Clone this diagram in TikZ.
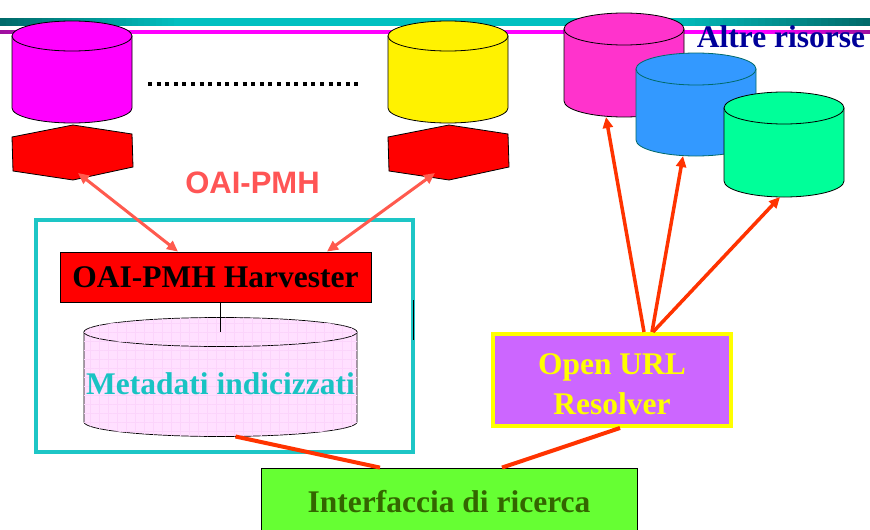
\documentclass[tikz,border=0pt]{standalone}
\usepackage{fontspec}
\setmainfont{Liberation Serif}
\newfontfamily\arialfont{Liberation Sans}
\usepackage{tikz}
\usetikzlibrary{arrows.meta,patterns.meta}
\definecolor{bandteal}{HTML}{00C0C0}
\definecolor{bandscuro}{HTML}{006A6A}
\definecolor{lineamag}{HTML}{FF00FF}
\definecolor{lineascura}{HTML}{9E109E}
\definecolor{cornice}{HTML}{1DC6C6}
\definecolor{freccia}{HTML}{FF5A4E}
\definecolor{linkrosso}{HTML}{FF3300}
\definecolor{fucsia}{HTML}{FF00FF}
\definecolor{rosa}{HTML}{FF33CC}
\definecolor{azzurro}{HTML}{3399FF}
\definecolor{verdeacqua}{HTML}{00FF99}
\definecolor{lilla}{HTML}{CC66FF}
\definecolor{verde}{HTML}{66FF33}
\definecolor{verdescuro}{HTML}{336600}
\definecolor{blu}{HTML}{000099}
\definecolor{rosapallido}{HTML}{FFE0FF}
\definecolor{griglia}{HTML}{F8B8F8}
\definecolor{testociano}{HTML}{19C3C3}
\definecolor{salmone}{HTML}{FF5555}
\definecolor{giallo}{HTML}{FFFF00}
% cylinder: name, left x, right x, top y, bottom y, y radius, style
\newcommand{\disco}[7]{%
  \filldraw[#7] (#2,#4) -- (#2,#5) arc[start angle=180,end angle=360,x radius={(#3-#2)/2},y radius=#6] -- (#3,#4) -- cycle;
  \filldraw[#7] ({(#2+#3)/2},#4) ellipse[x radius={(#3-#2)/2},y radius=#6];
  \coordinate (#1) at ({(#2+#3)/2},{#5-#6});
  \coordinate (#1 top) at ({(#2+#3)/2},#4);
}

\begin{document}
\begin{tikzpicture}[x=1pt,y=1pt,
    tit/.style={font=\fontsize{31.5}{40}\selectfont\bfseries},
    hexa/.style={fill=red,draw=black,line width=0.8pt},
    harv box/.style={tit,fill=red,draw=black,line width=0.8pt,minimum width=311,minimum height=50,inner sep=0pt},
    cornice box/.style={draw=cornice,line width=3.5pt,minimum width=377,minimum height=232,inner sep=0pt},
    oai arrow/.style={freccia,line width=3pt,{Triangle[length=11pt,width=10pt]}-{Triangle[length=11pt,width=10pt]}},
    url arrow/.style={linkrosso,line width=3.5pt,-{Triangle[length=11pt,width=10pt]}},
    link/.style={linkrosso,line width=4pt}]
        \useasboundingbox (0,0) rectangle (870,-530);
        \fill[white] (0,0) rectangle (870,-530);
        % Title bars
        \fill[bandteal] (180,-18) rectangle (660,-26);
        \fill[lineamag] (120,-30) rectangle (760,-34);
        \foreach \i in {0,...,29}{
            \pgfmathtruncatemacro{\p}{\i*100/29}
            \fill[bandteal!\p!bandscuro] ({\i*6},-18) rectangle ({\i*6+6.6},-26);
            \fill[bandscuro!\p!bandteal] ({660+\i*7},-18) rectangle ({660+\i*7+7.6},-26);
            \fill[lineamag!\p!lineascura] ({\i*4},-30) rectangle ({\i*4+4.6},-34);
            \fill[lineascura!\p!lineamag] ({760+\i*3.7},-30) rectangle ({760+\i*3.7+4.3},-34);
        }
        % Repositories
        \disco{magenta}{12}{132}{-36}{-108}{15}{fill=fucsia,draw=black,line width=0.8pt}
        \disco{giallo}{388}{508}{-36}{-108}{15}{fill=yellow,draw=black,line width=0.8pt}
        \foreach \x in {0,376}
            \filldraw[hexa,xshift=\x] (73,-125) -- (12,-137) -- (13,-171) -- (73,-180) -- (133,-167) -- (132,-134) -- cycle;
        \coordinate (hexA) at (78,-173);
        \coordinate (hexB) at (435,-173);
        \draw[line width=4pt,dash pattern=on 4pt off 4.6pt] (148,-84) -- (362,-84);
        \node[font=\arialfont\fontsize{31}{36}\selectfont\bfseries,text=salmone,anchor=base] (oai) at (252.5,-193) {OAI-PMH};
        % Other resources
        \disco{rosa}{564}{684}{-29}{-101}{16}{fill=rosa,draw=black,line width=0.8pt}
        \disco{azzurro}{636}{756}{-69}{-140}{16}{fill=azzurro,draw=bandscuro,line width=0.8pt}
        \disco{verde}{724}{844}{-108}{-181}{16}{fill=verdeacqua,draw=black,line width=0.8pt}
        \node[tit,text=blu,anchor=base] (altre) at (781,-47) {Altre risorse};
        % Harvester and index
        \node[cornice box] (blocco) at (224.5,-336) {};
        \draw[line width=0.8pt] (413,-300) -- (413,-340);
        \node[harv box] (harv) at (215.5,-277) {OAI-PMH Harvester};
        \disco{meta}{84}{357}{-332}{-422}{14.5}{fill=rosapallido,draw=black,line width=0.7pt,postaction={pattern={Hatch[distance=9pt,line width=0.5pt]},pattern color=griglia!60}}
        \draw[line width=0.8pt] (meta top |- harv.south) -- (meta top);
        \node[tit,text=testociano,anchor=base] (metalabel) at (220.5,-394) {Metadati indicizzati};
        % Resolver and search
        \node[tit,fill=lilla,draw=giallo,line width=4pt,text=giallo,align=center,minimum width=238,minimum height=92,inner sep=0pt] (resolver) at (612,-380) {\rule{0pt}{30pt}Open URL\\Resolver};
        \node[tit,fill=verde,draw=black,line width=0.8pt,text=verdescuro,minimum width=376,minimum height=67,inner sep=0pt] (cerca) at (449,-501.5) {Interfaccia di ricerca};
        % Connections
        \draw[link] ([xshift=15pt]meta) -- ([xshift=-69pt]cerca.north);
        \draw[link] ([xshift=8pt]resolver.south) -- ([xshift=53pt]cerca.north);
        \draw[oai arrow] (hexA) -- ([xshift=-37.5pt]harv.north);
        \draw[oai arrow] (hexB) -- ([xshift=111.5pt]harv.north);
        \draw[url arrow] ([xshift=32pt]resolver.north) -- ([xshift=-18pt]rosa);
        \draw[url arrow] ([xshift=40pt]resolver.north) -- ([xshift=-13pt]azzurro);
        \draw[url arrow] ([xshift=41pt]resolver.north) -- ([xshift=-4pt]verde);
\end{tikzpicture}
\end{document}
